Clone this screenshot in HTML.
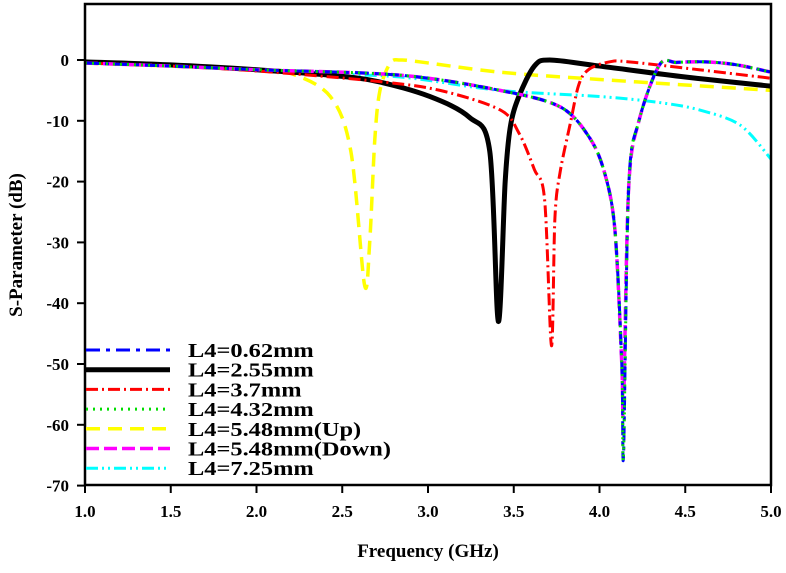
<!DOCTYPE html>
<html><head><meta charset="utf-8"><style>
body{margin:0;background:#fff;}
svg text{font-family:"Liberation Serif",serif;font-weight:bold;}
</style></head><body>
<svg id="chart" width="786" height="568" xmlns="http://www.w3.org/2000/svg"></svg>
<script>
const xTicks=[1.0,1.5,2.0,2.5,3.0,3.5,4.0,4.5,5.0];
const yTicks=[0,-10,-20,-30,-40,-50,-60,-70];
const fBlack=[1.0,1.5,2.0,2.43,2.7,3.01,3.24,3.36,3.41,3.45,3.48,3.53,3.62,3.71,4.0,4.5,5.0];
const dBlack=[-0.3,-0.8,-1.6,-2.5,-3.5,-6,-9.4,-15,-43,-20,-11,-6,-1,0,-1,-2.8,-4.3];
const fYellow=[1.0,1.5,2.0,2.2,2.43,2.55,2.63,2.66,2.69,2.72,2.78,2.84,2.95,3.42,4.0,5.0];
const dYellow=[-0.5,-1,-1.6,-2.2,-6,-15,-37,-30,-13,-5,-0.5,0,-0.3,-2,-3.2,-5];
const fRed=[1.0,1.5,2.0,2.7,3.07,3.42,3.53,3.62,3.68,3.72,3.74,3.77,3.83,3.88,3.94,4.06,4.17,4.58,5.0];
const dRed=[-0.5,-1,-1.8,-3.5,-5,-8.2,-12,-18,-23,-47,-26,-18.5,-10.4,-4,-1.5,-0.3,-0.3,-1.6,-3];
const fMag=[1.0,1.5,2.0,2.84,3.42,3.77,3.94,4.03,4.09,4.13,4.14,4.17,4.23,4.35,4.45,4.62,4.8,5.0];
const dMag=[-0.5,-1,-1.6,-2.5,-5,-7.7,-12.7,-18.6,-28,-50,-57,-21,-10,-0.8,-0.4,-0.3,-0.8,-2];
const dDeep=[-0.5,-1,-1.6,-2.5,-5,-7.7,-12.7,-18.6,-28,-50,-65,-21,-10,-0.8,-0.4,-0.3,-0.8,-2];
const fCyan=[1.0,1.5,2.0,2.3,2.84,3.42,4.0,4.35,4.58,4.82,5.0];
const dCyan=[-0.5,-1,-1.6,-2.2,-2.8,-5,-6,-7,-8.2,-10.7,-16.3];
const legendLabels=["L4=0.62mm","L4=2.55mm","L4=3.7mm","L4=4.32mm","L4=5.48mm(Up)","L4=5.48mm(Down)","L4=7.25mm"];

const X0=85,X1=771,Y0=4,YB=485;
const xs=f=>X0+(f-1)*(X1-X0)/4;
const ys=d=>60-d*6.08;
const svg=document.getElementById('chart');
const NS="http://www.w3.org/2000/svg";
function mk(t,a,p){const e=document.createElementNS(NS,t);for(const k in a)e.setAttribute(k,a[k]);(p||svg).appendChild(e);return e;}
function smooth(P){let d='M'+P[0][0]+','+P[0][1];
 for(let i=0;i<P.length-1;i++){const p0=P[Math.max(0,i-1)],p1=P[i],p2=P[i+1],p3=P[Math.min(P.length-1,i+2)];
  const t=0.35;
  const c1=[p1[0]+(p2[0]-p0[0])*t/2*0.9,p1[1]+(p2[1]-p0[1])*t/2*0.9];
  const c2=[p2[0]-(p3[0]-p1[0])*t/2*0.9,p2[1]-(p3[1]-p1[1])*t/2*0.9];
  d+=' C'+c1[0]+','+c1[1]+' '+c2[0]+','+c2[1]+' '+p2[0]+','+p2[1];}
 return d;}

const series=[
 {f:fMag,d:dDeep,c:"#0000ff",w:3,da:"14,6,4,6",name:"series-l4-0-62mm"},
 {f:fBlack,d:dBlack,c:"#000",w:5,da:"",name:"series-l4-2-55mm"},
 {f:fRed,d:dRed,c:"#ff0000",w:3,da:"12,4,2,4",name:"series-l4-3-7mm"},
 {f:fMag,d:dDeep,c:"#00dd00",w:3,da:"2,5",name:"series-l4-4-32mm"},
 {f:fYellow,d:dYellow,c:"#ffff00",w:3.5,da:"14,8",name:"series-l4-5-48mm-up"},
 {f:fMag,d:dMag,c:"#ff00ff",w:3.5,da:"13,5",name:"series-l4-5-48mm-down"},
 {f:fCyan,d:dCyan,c:"#00ffff",w:3,da:"12,4,2,4,2,4",name:"series-l4-7-25mm"}
];
const order=[6,4,1,2,5,0,3];
order.forEach(i=>{const s=series[i];
 const p=mk('path',{d:smooth(s.f.map((f,j)=>[xs(f),ys(s.d[j])])),fill:'none',stroke:s.c,'stroke-width':s.w,'stroke-dasharray':s.da,'stroke-linejoin':'round'});
 
 
});
const fr=mk('rect',{x:X0,y:Y0,width:X1-X0,height:YB-Y0,fill:'none',stroke:'#000','stroke-width':2.5});


xTicks.forEach(t=>{
 mk('line',{x1:xs(t),x2:xs(t),y1:YB,y2:YB+8,stroke:'#000','stroke-width':2});
 const tx=mk('text',{x:xs(t),y:YB+32,'text-anchor':'middle','font-size':17});tx.textContent=t.toFixed(1);
 
 
});
yTicks.forEach(t=>{
 mk('line',{x1:X0-8,x2:X0,y1:ys(t),y2:ys(t),stroke:'#000','stroke-width':2});
 const tx=mk('text',{x:X0-16,y:ys(t)+6,'text-anchor':'end','font-size':17});tx.textContent=t;
 
 
});
const xt=mk('text',{x:428,y:557,'text-anchor':'middle','font-size':19});xt.textContent='Frequency (GHz)';


const yt=mk('text',{x:0,y:0,'text-anchor':'middle','font-size':19,transform:'translate(22,245) rotate(-90)'});yt.textContent='S-Parameter (dB)';


legendLabels.forEach((l,i)=>{const s=series[i];const y=350+i*19.7;
 const g=mk('g',{});
 
 
 mk('line',{x1:86,x2:170,y1:y,y2:y,stroke:s.c,'stroke-width':s.w,'stroke-dasharray':s.da},g);
 const t=mk('text',{x:188,y:y+7,'font-size':20},g);t.textContent=l;
 const w=t.getComputedTextLength();
 t.setAttribute('textLength',w*1.22);
 t.setAttribute('lengthAdjust','spacingAndGlyphs');
});
</script>
</body></html>
